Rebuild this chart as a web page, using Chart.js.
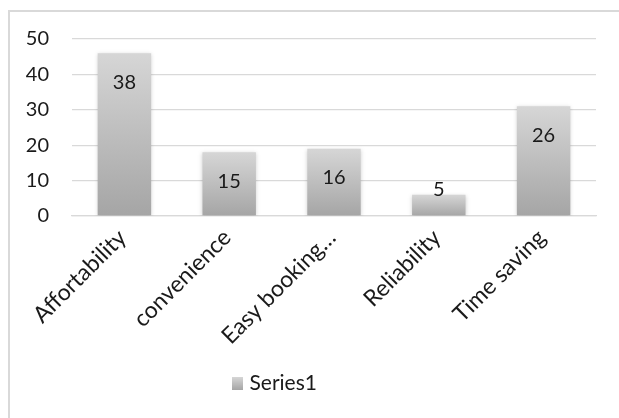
<!DOCTYPE html>
<html>
<head>
<meta charset="utf-8">
<script src="https://cdn.jsdelivr.net/npm/chart.js@4.4.1/dist/chart.umd.min.js"></script>
<style>
  html, body { margin: 0; padding: 0; background: #fff; overflow: hidden; }
  body { width: 619px; height: 418px; position: relative; }
  .frame {
    position: absolute; left: 8px; top: 10px;
    width: 700px; height: 500px;
    border: 2px solid #d9d9d9;
  }
  .wrap { position: absolute; left: 0; top: 0; width: 619px; height: 418px; }
</style>
</head>
<body>
<div class="frame"></div>
<div class="wrap"><canvas id="barChart" width="619" height="418"></canvas></div>

<script>
/* ── Data ───────────────────────────────────────────────── */

const categories = ['Affortability', 'convenience', 'Easy booking…', 'Reliability', 'Time saving'];
const barValues  = [46, 18, 19, 6, 31];
const dataLabels = ['38', '15', '16', '5', '26'];
const yTicks     = [0, 10, 20, 30, 40, 50];
const seriesName = 'Series1';

/* ── Style ──────────────────────────────────────────────── */

const FONT      = 'Lato, "Liberation Sans", sans-serif';
const TEXT      = '#1a1a1a';
const GRID      = '#d9d9d9';
const BAR_TOP   = '#d6d6d6';
const BAR_BOT   = '#a5a5a5';
const LEGEND_SHIFT = -22;   // legend sits left of centre in the original


/* ── Bar gradient (per bar, light top → dark bottom) ────── */

function barFill(ctx) {
  const chart = ctx.chart;
  const area  = chart.chartArea;
  if (!area || ctx.raw === undefined) return BAR_BOT;
  const y    = chart.scales.y;
  const top  = y.getPixelForValue(ctx.raw);
  const base = y.getPixelForValue(0);
  const g = chart.ctx.createLinearGradient(0, top, 0, base);
  g.addColorStop(0, BAR_TOP);
  g.addColorStop(1, BAR_BOT);
  return g;
}

function legendSwatch() {
  const c = document.createElement('canvas');
  c.width = 11; c.height = 13;
  const g = c.getContext('2d');
  const grd = g.createLinearGradient(0, 0, 0, 13);
  grd.addColorStop(0, BAR_TOP);
  grd.addColorStop(1, BAR_BOT);
  g.fillStyle = grd;
  g.fillRect(0, 0, 11, 13);
  return c;
}


/* ── Plugins ────────────────────────────────────────────── */

// soft shadow round the bars, as in the original
const barShadow = {
  id: 'barShadow',
  beforeDatasetDraw(chart) {
    const ctx = chart.ctx;
    ctx.save();
    ctx.shadowColor = 'rgba(0,0,0,0.18)';
    ctx.shadowBlur = 4;
    ctx.shadowOffsetX = 0;
    ctx.shadowOffsetY = 1;
  },
  afterDatasetDraw(chart) {
    chart.ctx.restore();
  }
};

const labelPlugin = {
  id: 'barLabels',
  afterDatasetsDraw(chart) {
    const ctx  = chart.ctx;
    const meta = chart.getDatasetMeta(0);
    ctx.save();
    ctx.font = '20px ' + FONT;
    ctx.fillStyle = TEXT;
    ctx.textAlign = 'center';
    ctx.textBaseline = 'middle';
    meta.data.forEach((bar, i) => {
      const h = bar.base - bar.y;
      const y = h > 45 ? bar.y + 29 : bar.y - 5;
      ctx.fillText(dataLabels[i], bar.x, y);
    });
    ctx.restore();
  }
};

const legendShift = {
  id: 'legendShift',
  afterLayout(chart) {
    chart.legend.left  += LEGEND_SHIFT;
    chart.legend.right += LEGEND_SHIFT;
  }
};


/* ── Chart ──────────────────────────────────────────────── */

new Chart(document.getElementById('barChart'), {
  type: 'bar',
  data: {
    labels: categories,
    datasets: [{
      label: seriesName,
      data: barValues,
      backgroundColor: barFill,
      borderWidth: 0,
      categoryPercentage: 1,
      barPercentage: 0.51
    }]
  },
  options: {
    responsive: false,
    animation: false,
    layout: { padding: { top: 39, right: 23, bottom: 14, left: 0 } },
    plugins: {
      legend: {
        position: 'bottom',
        labels: {
          usePointStyle: true,
          pointStyle: legendSwatch(),
          pointStyleWidth: 4,
          color: TEXT,
          font: { family: FONT, size: 21 },
          padding: 5
        }
      },
      tooltip: { enabled: false }
    },
    scales: {
      x: {
        grid: { display: false, drawTicks: false },
        border: { display: true, color: GRID, width: 1.3 },
        ticks: {
          color: TEXT,
          font: { family: FONT, size: 23 },
          minRotation: 45, maxRotation: 45,
          padding: 8,
          labelOffset: -2,
          autoSkip: false
        },
        afterFit: s => { s.height = 152; }
      },
      y: {
        min: 0, max: 50,
        afterBuildTicks: s => { s.ticks = yTicks.map(v => ({ value: v })); },
        grid: { color: GRID, lineWidth: 1.3, drawTicks: false },
        border: { display: false },
        ticks: {
          color: TEXT,
          font: { family: FONT, size: 20 },
          padding: 23
        },
        afterFit: s => { s.width = 72; }
      }
    }
  },
  plugins: [barShadow, labelPlugin, legendShift]
});
</script>
</body>
</html>
